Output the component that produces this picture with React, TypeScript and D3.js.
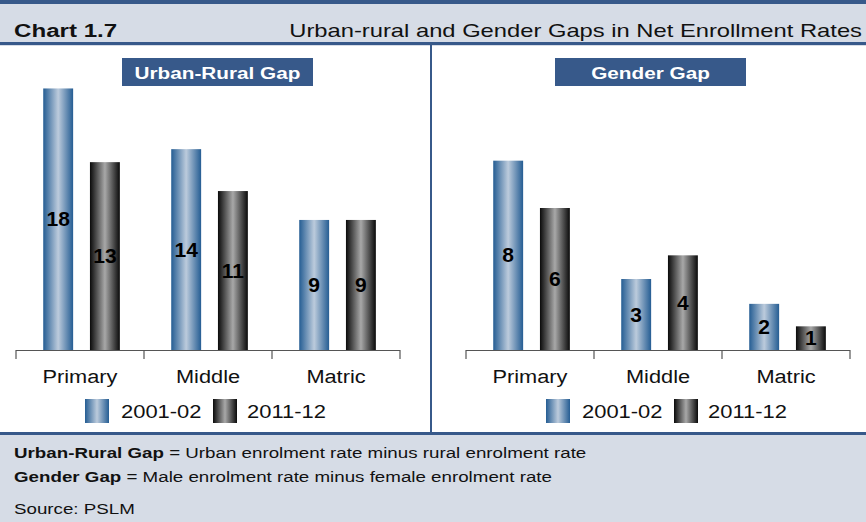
import React from "react";
import * as d3 from "d3";

const categories = ["Primary", "Middle", "Matric"];
const series = ["2001-02", "2011-12"];
const urbanRural2001 = [18.1, 13.9, 9.0];
const urbanRural2011 = [13.0, 11.0, 9.0];
const gender2001 = [8.0, 3.0, 1.95];
const gender2011 = [6.0, 4.0, 1.0];
const urbanRuralLabels2001 = ["18", "14", "9"];
const urbanRuralLabels2011 = ["13", "11", "9"];
const genderLabels2001 = ["8", "3", "2"];
const genderLabels2011 = ["6", "4", "1"];

const W = 866;
const H = 522;
const BLUE = "#37598a";
const BAND = "#d6dce6";
const FONT = "Liberation Sans, Arial, sans-serif";

type TProps = {
  x: number;
  y: number;
  sx?: number;
  size: number;
  bold?: boolean;
  anchor?: "start" | "middle" | "end";
  fill?: string;
  children: React.ReactNode;
};

function T({ x, y, sx = 1.23, size, bold, anchor = "start", fill = "#111", children }: TProps) {
  return (
    <text
      transform={`translate(${x},${y}) scale(${sx},1)`}
      textAnchor={anchor}
      fontSize={size}
      fontWeight={bold ? "bold" : "normal"}
      fontFamily={FONT}
      fill={fill}
    >
      {children}
    </text>
  );
}

type PanelProps = {
  x0: number;
  x1: number;
  yMax: number;
  yTop: number;
  v1: number[];
  v2: number[];
  l1: string[];
  l2: string[];
  title: string;
  titleX: number;
  legendX: number;
};

function Panel(p: PanelProps) {
  const baseY = 350;
  const x = d3.scaleBand<string>().domain(categories).range([p.x0, p.x1]);
  const xi = d3
    .scaleBand<string>()
    .domain(series)
    .range([0, x.bandwidth()])
    .paddingInner(0.36)
    .paddingOuter(0.55)
    .align(0.53);
  const y = d3.scaleLinear().domain([0, p.yMax]).range([baseY, p.yTop]);
  const data = [p.v1, p.v2];
  const labels = [p.l1, p.l2];
  const grads = ["gBlue", "gBlack"];
  const ticks = [...categories.map((c) => x(c)!), p.x1];
  return (
    <g>
      <rect x={p.titleX} y={58} width={191} height={28} fill={BLUE} />
      <T x={p.titleX + 95.5} y={78.5} anchor="middle" fill="#fff" bold size={17} sx={1.22}>
        {p.title}
      </T>
      {series.map((s, si) =>
        categories.map((c, ci) => {
          const bx = x(c)! + xi(s)!;
          const by = y(data[si][ci]);
          const bh = baseY - by;
          return (
            <g key={s + c}>
              <rect x={bx} y={by} width={xi.bandwidth()} height={bh} fill={`url(#${grads[si]})`} />
              <T x={bx + xi.bandwidth() / 2} y={by + bh / 2 + 7} anchor="middle" bold size={19.5} sx={1.08} fill="#000">
                {labels[si][ci]}
              </T>
            </g>
          );
        })
      )}
      <line x1={p.x0} x2={p.x1} y1={baseY + 0.5} y2={baseY + 0.5} stroke="#555" strokeWidth={1.2} />
      {ticks.map((t, i) => (
        <line key={i} x1={t} x2={t} y1={baseY} y2={baseY + 9} stroke="#555" strokeWidth={1.2} />
      ))}
      {categories.map((c) => (
        <T key={c} x={x(c)! + x.bandwidth() / 2} y={383} anchor="middle" size={18} sx={1.21}>
          {c}
        </T>
      ))}
      <g transform={`translate(${p.legendX},399)`}>
        <rect x={0} y={0} width={24} height={24} fill="url(#gBlue)" />
        <T x={36} y={19} size={18} sx={1.22}>
          {series[0]}
        </T>
        <rect x={128} y={0} width={24} height={24} fill="url(#gBlack)" />
        <T x={162} y={19} size={18} sx={1.22}>
          {series[1]}
        </T>
      </g>
    </g>
  );
}

export default function App() {
  return (
    <svg width={W} height={H} style={{ position: "absolute", left: 0, top: 0, display: "block" }}>
      <defs>
        <linearGradient id="gBlue" x1="0" x2="1" y1="0" y2="0">
          <stop offset="0" stopColor="#255d93" />
          <stop offset="0.5" stopColor="#bccbdc" />
          <stop offset="1" stopColor="#255d93" />
        </linearGradient>
        <linearGradient id="gBlack" x1="0" x2="1" y1="0" y2="0">
          <stop offset="0" stopColor="#0a0a0a" />
          <stop offset="0.5" stopColor="#a8a8a8" />
          <stop offset="1" stopColor="#0a0a0a" />
        </linearGradient>
      </defs>
      <rect x={0} y={0} width={W} height={H} fill="#fff" />
      <rect x={0} y={0} width={W} height={46} fill={BAND} />
      <rect x={0} y={0} width={W} height={4} fill={BLUE} />
      <rect x={0} y={42} width={W} height={3} fill={BLUE} />
      <T x={14} y={37} bold size={19} sx={1.27}>
        Chart 1.7
      </T>
      <T x={862} y={37} anchor="end" size={19} sx={1.25}>
        Urban-rural and Gender Gaps in Net Enrollment Rates
      </T>
      <rect x={430} y={45} width={2} height={388} fill={BLUE} />
      <rect x={0} y={435} width={W} height={87} fill={BAND} />
      <rect x={0} y={432} width={W} height={3} fill={BLUE} />
      <Panel
        x0={16}
        x1={400}
        yMax={20}
        yTop={61}
        v1={urbanRural2001}
        v2={urbanRural2011}
        l1={urbanRuralLabels2001}
        l2={urbanRuralLabels2011}
        title="Urban-Rural Gap"
        titleX={122}
        legendX={85}
      />
      <Panel
        x0={466}
        x1={850}
        yMax={12}
        yTop={66}
        v1={gender2001}
        v2={gender2011}
        l1={genderLabels2001}
        l2={genderLabels2011}
        title="Gender Gap"
        titleX={555}
        legendX={546}
      />
      <text transform="translate(14,458) scale(1.25,1)" fontFamily={FONT} fontSize={15} fill="#111">
        <tspan fontWeight="bold">Urban-Rural Gap</tspan> = Urban enrolment rate minus rural enrolment rate
      </text>
      <text transform="translate(14,482) scale(1.25,1)" fontFamily={FONT} fontSize={15} fill="#111">
        <tspan fontWeight="bold">Gender Gap</tspan> = Male enrolment rate minus female enrolment rate
      </text>
      <T x={14} y={514} size={15} sx={1.25}>
        Source: PSLM
      </T>
    </svg>
  );
}
